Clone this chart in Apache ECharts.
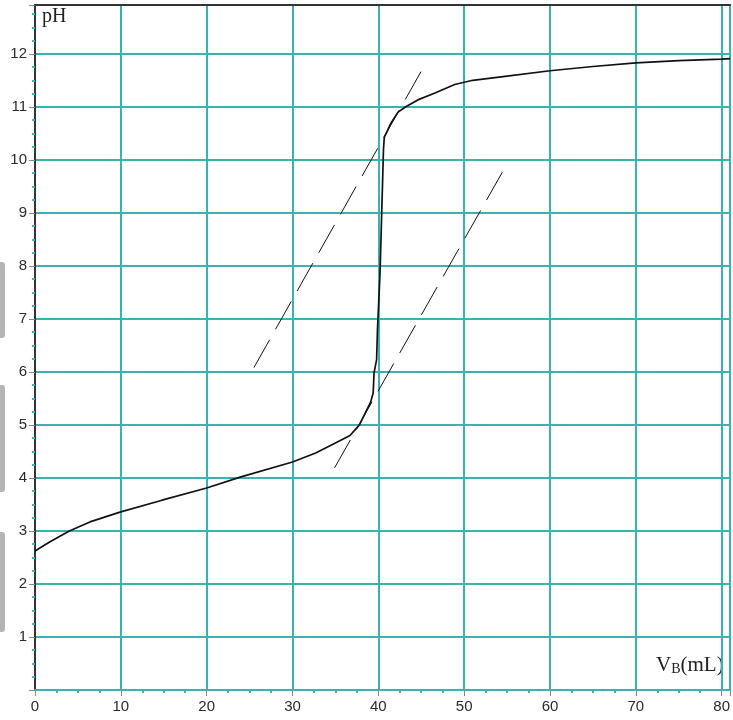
<!DOCTYPE html>
<html>
<head>
    <meta charset="utf-8">
    <title>pH titration curve</title>
    <style>
        body { margin: 0; padding: 0; background: #fff; }
        #chart { width: 733px; height: 720px; }
    </style>
</head>
<body>
    <script src="https://cdn.jsdelivr.net/npm/echarts@6/dist/echarts.min.js"></script>
    <div id="chart"></div>
    <script>
        // titration curve
        const vb = [0, 1.7, 4, 6.4, 10, 14.8, 20, 24, 30, 32.7, 35, 36.7, 37.8, 39.1, 39.4, 39.5, 39.8, 39.9, 40.2, 40.6, 40.7, 41.5, 42.3, 43.2, 44.6, 46.6, 48.9, 51, 55, 60, 65, 70, 75, 80, 81];
        const ph = [2.62, 2.79, 3.0, 3.17, 3.36, 3.58, 3.81, 4.02, 4.3, 4.47, 4.66, 4.8, 5.0, 5.43, 5.6, 5.98, 6.23, 6.8, 7.87, 10.2, 10.43, 10.7, 10.9, 11.0, 11.13, 11.26, 11.42, 11.5, 11.58, 11.68, 11.76, 11.83, 11.87, 11.9, 11.91];
        // the two dashed tangents
        const tan1X = [25.5, 45.1];
        const tan1Y = [6.08, 11.7];
        const tan2X = [34.9, 54.6];
        const tan2Y = [4.19, 9.81];

        const teal = '#3ab2ae';
        const zip = (xs, ys) => xs.map((x, i) => [x, ys[i]]);

        const chart = echarts.init(document.getElementById('chart'));
        chart.setOption({
            animation: false,
            grid: { left: 35, top: 5, right: 0, bottom: 30 },
            xAxis: [{
                type: 'value',
                min: 0, max: 81, interval: 10,
                axisLine: { lineStyle: { color: teal, width: 2 } },
                axisTick: { length: 6, lineStyle: { color: '#888' } },
                minorTick: { show: true, splitNumber: 4, length: 3, lineStyle: { color: teal, width: 2 } },
                axisLabel: {
                    color: '#2a2a2a', fontFamily: 'Arial', fontSize: 15, margin: 9,
                    showMaxLabel: false,
                    formatter: v => (v % 10 === 0 ? String(v) : '')
                },
                splitLine: { show: true, lineStyle: { color: teal, width: 2 } }
            }, {
                type: 'value', position: 'top',
                min: 0, max: 81,
                axisLine: { show: true, lineStyle: { color: '#333', width: 2 } },
                axisTick: { show: false }, axisLabel: { show: false }, splitLine: { show: false }
            }],
            yAxis: {
                type: 'value',
                min: 0, max: 12.92, interval: 1,
                axisLine: { show: true, lineStyle: { color: '#333', width: 2 } },
                axisTick: { show: true, length: 6, lineStyle: { color: '#888' } },
                minorTick: { show: true, splitNumber: 4, length: 3, lineStyle: { color: teal, width: 2 } },
                axisLabel: {
                    color: '#2a2a2a', fontFamily: 'Arial', fontSize: 15, margin: 8,
                    formatter: v => (v > 0 && Number.isInteger(v) ? String(v) : '')
                },
                splitLine: { show: true, lineStyle: { color: teal, width: 2 } }
            },
            series: [{
                type: 'line',
                data: zip(vb, ph),
                showSymbol: false,
                lineStyle: { color: '#111', width: 1.7 },
                z: 5
            }, {
                type: 'line',
                data: zip(tan1X, tan1Y),
                showSymbol: false,
                lineStyle: { color: '#111', width: 1, type: [32, 12] },
                z: 4
            }, {
                type: 'line',
                data: zip(tan2X, tan2Y),
                showSymbol: false,
                lineStyle: { color: '#111', width: 1, type: [32, 12] },
                z: 4
            }],
            graphic: [
                { type: 'text', left: 42, top: 7, style: { text: 'pH', fill: '#222', font: '20px "Liberation Serif"' } },
                {
                    type: 'text', left: 656, top: 655,
                    style: {
                        text: '{v|V}{s|B}{v|(mL)}',
                        rich: {
                            v: { fill: '#222', fontFamily: 'Liberation Serif', fontSize: 21 },
                            s: { fill: '#222', fontFamily: 'Liberation Serif', fontSize: 14, verticalAlign: 'bottom', padding: [6, 0, 0, 0] }
                        }
                    }
                },
                { type: 'rect', shape: { x: -4, y: 262, width: 9, height: 76, r: 3 }, style: { fill: '#b4b4b4' } },
                { type: 'rect', shape: { x: -4, y: 385, width: 9, height: 107, r: 3 }, style: { fill: '#b4b4b4' } },
                { type: 'rect', shape: { x: -4, y: 532, width: 9, height: 100, r: 3 }, style: { fill: '#b4b4b4' } }
            ]
        });
    </script>
</body>
</html>
